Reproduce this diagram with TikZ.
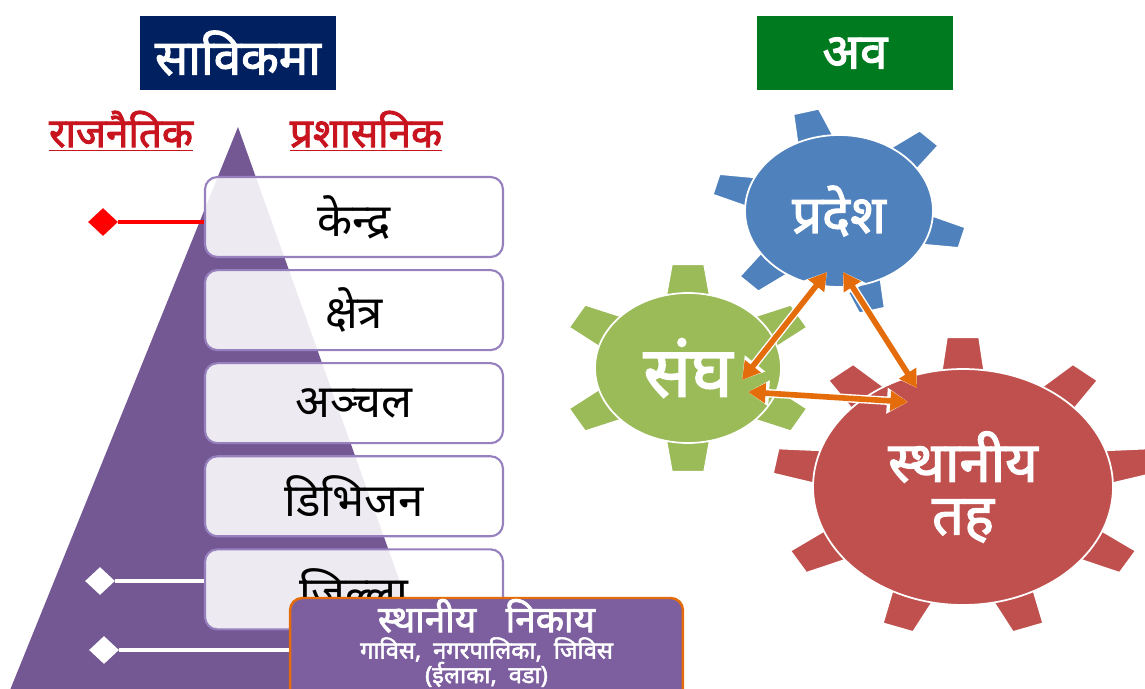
\documentclass[tikz,border=0pt]{standalone}
\usepackage{fontspec}
\setmainfont[Script=Devanagari, BoldFont={Noto Sans}, BoldFeatures={FakeBold=2.2}]{Noto Sans}
\usetikzlibrary{shapes.geometric,arrows.meta,calc,positioning}

\definecolor{titleblue}{RGB}{0,32,96}
\definecolor{titlegreen}{RGB}{0,122,30}
\definecolor{headred}{RGB}{200,20,30}
\definecolor{pyramid}{RGB}{115,88,148}
\definecolor{boxline}{RGB}{150,128,190}
\definecolor{localfill}{RGB}{125,95,160}
\definecolor{localline}{RGB}{228,108,10}
\definecolor{gearblue}{RGB}{79,129,189}
\definecolor{geargreen}{RGB}{155,187,89}
\definecolor{gearred}{RGB}{192,80,77}
\definecolor{linkorange}{RGB}{228,108,10}

\tikzset{
  titlebox/.style={fill=titleblue, text=white, inner sep=0pt,
    minimum width=3.92cm, minimum height=1.48cm,
    font=\bfseries\fontsize{28}{32}\selectfont},
  heading/.style={text=headred, font=\bfseries\fontsize{23}{26}\selectfont},
  level/.style={draw=boxline, line width=1.2pt, fill=white, fill opacity=0.88,
    text opacity=1, rounded corners=7pt, minimum width=5.96cm,
    minimum height=1.6cm, font=\fontsize{26}{30}\selectfont},
  localbox/.style={draw=localline, fill=localfill, line width=1.4pt,
    rounded corners=7pt, inner sep=0pt, minimum width=7.86cm, minimum height=2.08cm},
  localtext/.style={text=white, align=center, inner sep=0pt,
    font=\bfseries\fontsize{13.5}{14}\selectfont},
  tip/.style={diamond, inner sep=0pt, minimum width=0.6cm, minimum height=0.56cm},
  gear/.style={ellipse, draw=white, line width=1pt, text=white, inner sep=0pt,
    outer sep=0pt, align=center, font=\bfseries\fontsize{30}{34}\selectfont},
  tooth/.style={draw=white, line width=0.8pt, line join=round},
  link/.style={{Triangle[length=10pt,width=11pt]}-{Triangle[length=10pt,width=11pt]},
    draw=linkorange, line width=3.2pt},
  linkhalo/.style={{Triangle[length=12pt,width=14pt]}-{Triangle[length=12pt,width=14pt]},
    draw=white, line width=4.8pt}
}

\begin{document}
\begin{tikzpicture}[x=0.02cm,y=-0.02cm]
\useasboundingbox (0,0) rectangle (1145,689);
\clip (0,0) rectangle (1145,689);

% left side: the old structure
\fill[pyramid] (238,127) -- (442,700) -- (6,700) -- cycle;

\node[titlebox] (before) at (238,53) {साविकमा};
\node[heading] (political) at (121,131) {\underline{राजनैतिक}};
\node[heading] (admin) at (366,131) {\underline{प्रशासनिक}};

\node[level] (kendra) at (354,217) {केन्द्र};
\node[level, below=0.22cm of kendra] (kshetra) {क्षेत्र};
\node[level, below=0.22cm of kshetra] (anchal) {अञ्चल};
\node[level, below=0.22cm of anchal] (division) {डिभिजन};
\node[level, below=0.22cm of division] (jilla) {जिल्ला};

\node[localbox] (nikay) at (486.5,650) {};
\node[localtext] (nikaytext) at (486.5,643) {{\fontsize{21}{23}\selectfont स्थानीय\hspace{0.8em}निकाय}\\[1pt]
  गाविस,\hspace{0.5em}नगरपालिका,\hspace{0.5em}जिविस\\(ईलाका,\hspace{0.5em}वडा)};

\node[tip, fill=red] (redtip) at (103,222) {};
\draw[red, line width=2.6pt] (redtip) -- (redtip -| kendra.west);
\node[tip, fill=white] (tipA) at (100,581) {};
\draw[white, line width=2.4pt] (tipA) -- (tipA -| jilla.west);
\node[tip, fill=white] (tipB) at (104,650) {};
\draw[white, line width=2.4pt] (tipB) -- (tipB -| nikay.west);

% right side: the new structure
\node[titlebox, fill=titlegreen] (now) at (855,53) {अव};

% green gear
\begin{scope}[shift={(688,368)}, yscale=0.81]
  \foreach \a in {30,90,...,330}
    \filldraw[tooth, fill=geargreen, rotate=\a] (80,-23) -- (128,-16) -- (128,16) -- (80,23) -- cycle;
\end{scope}
\node[gear, fill=geargreen, minimum width=3.72cm, minimum height=3cm,
  font=\bfseries\fontsize{40}{44}\selectfont] (sangh) at (688,368) {संघ};

% blue gear
\begin{scope}[shift={(839,211)}, yscale=0.81]
  \foreach \a in {45,105,...,345}
    \filldraw[tooth, fill=gearblue, rotate=\a] (80,-20) -- (127,-13) -- (127,13) -- (80,20) -- cycle;
\end{scope}
\node[gear, fill=gearblue, minimum width=3.76cm, minimum height=3.04cm] (pradesh) at (839,211) {प्रदेश};

% red gear
\begin{scope}[shift={(963,487)}, yscale=0.787]
  \foreach \a in {10,50,...,330}
    \filldraw[tooth, fill=gearred, rotate=\a] (140,-22) -- (190,-16) -- (190,16) -- (140,22) -- cycle;
\end{scope}
\node[gear, fill=gearred, minimum width=6cm, minimum height=4.72cm,
  font=\bfseries\fontsize{32}{30}\selectfont] (sthaniya) at (963,487) {स्थानीय\\तह};

% links between the three levels
\foreach \st in {linkhalo,link} {
  \draw[\st] ($(pradesh)+(-12,61)$) -- ($(sangh)+(54,12)$);
  \draw[\st] ($(pradesh)+(4,61)$) -- ($(sthaniya)+(-46,-99)$);
  \draw[\st] ($(sangh)+(60,24)$) -- ($(sthaniya)+(-55,-85)$);
}
\end{tikzpicture}
\end{document}
